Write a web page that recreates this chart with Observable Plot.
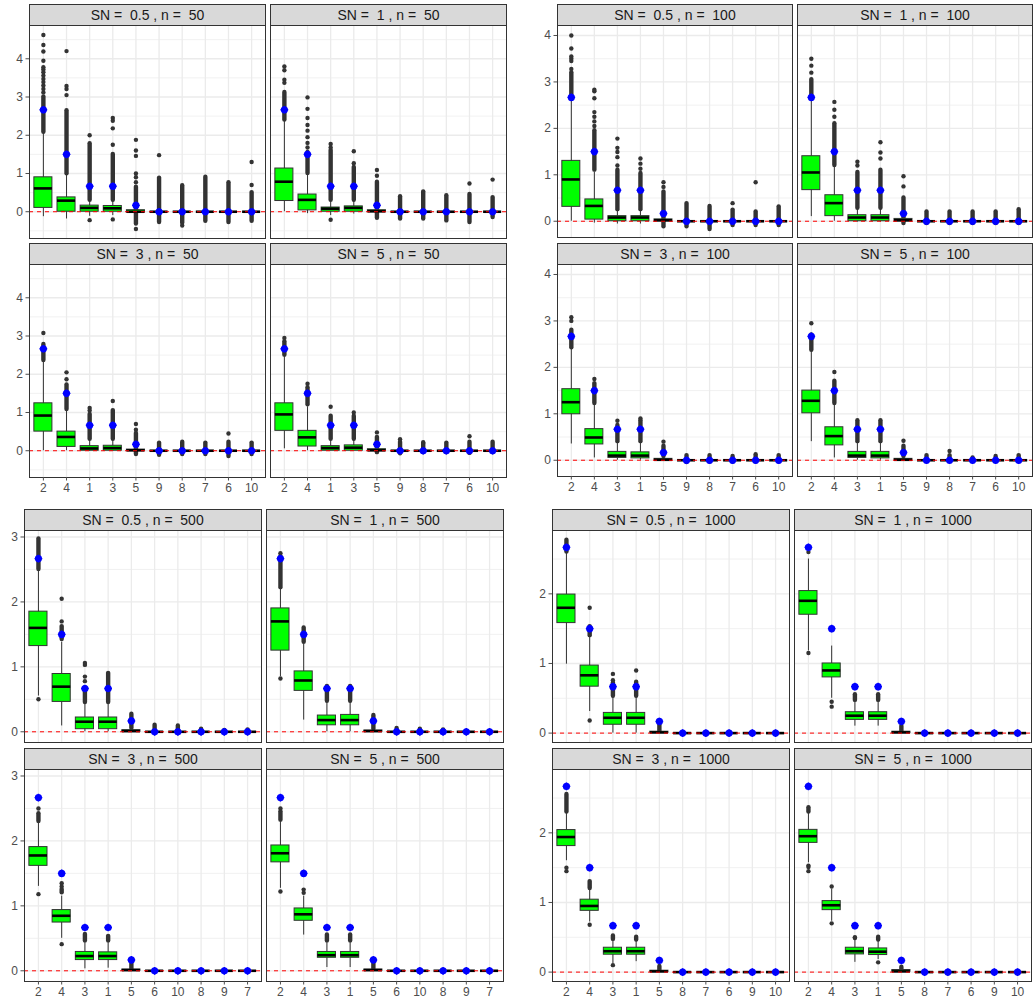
<!DOCTYPE html>
<html><head><meta charset="utf-8">
<script src="https://cdn.jsdelivr.net/npm/d3@7"></script>
<script src="https://cdn.jsdelivr.net/npm/@observablehq/plot@0.6"></script>
<style>
body{margin:0;background:#fff;font-family:"Liberation Sans",Arial,sans-serif;}
#chart{position:relative;width:1034px;height:1004px;overflow:hidden;background:#fff;}
.strip{position:absolute;box-sizing:border-box;background:#D9D9D9;border:1px solid #333;color:#1A1A1A;font-size:14px;line-height:20px;text-align:center;white-space:pre;}
.panel{position:absolute;}
</style></head><body><div id="chart"></div>
<script>
// ---------- data ----------
const sampleSizes = [50, 100, 500, 1000];
const snLevels = [0.5, 1, 3, 5];
const order50 = [2, 4, 1, 3, 5, 9, 8, 7, 6, 10];
const order100 = [2, 4, 3, 1, 5, 9, 8, 7, 6, 10];
const order500 = [2, 4, 3, 1, 5, 6, 10, 8, 9, 7];
const order1000 = [2, 4, 3, 1, 5, 8, 7, 6, 9, 10];
const trueVar = [1, 2, 3, 4, 5, 6, 7, 8, 9, 10];
const trueValue = [0.667, 2.667, 0.667, 1.5, 0.167, 0, 0, 0, 0, 0];

// box rows: [SN, variable, lower whisker, q1, median, q3, upper whisker]
const boxes50 = [
  [0.5,2,-0.13,0.10,0.61,0.90,2.08],[0.5,4,-0.19,0.00,0.29,0.375,0.97],[0.5,1,-0.12,0.00,0.10,0.16,0.30],[0.5,3,-0.10,0.00,0.09,0.15,0.30],[0.5,5,-0.03,-0.02,0.00,0.04,0.08],
  [0.5,9,0,0,0,0,0],[0.5,8,0,0,0,0,0],[0.5,7,0,0,0,0,0],[0.5,6,0,0,0,0,0],[0.5,10,0,0,0,0,0],
  [1,2,0.00,0.28,0.785,1.13,2.38],[1,4,-0.05,0.035,0.31,0.45,0.99],[1,1,-0.10,0.00,0.08,0.11,0.28],[1,3,-0.06,0.00,0.10,0.14,0.30],[1,5,-0.02,0.00,0.01,0.04,0.10],
  [1,9,0,0,0,0,0],[1,8,0,0,0,0,0],[1,7,0,0,0,0,0],[1,6,0,0,0,0,0],[1,10,0,0,0,0,0],
  [3,2,0.00,0.50,0.92,1.24,2.36],[3,4,0.00,0.10,0.36,0.50,1.05],[3,1,-0.01,0.00,0.06,0.12,0.28],[3,3,-0.01,0.00,0.07,0.13,0.30],[3,5,-0.01,0.00,0.01,0.03,0.06],
  [3,9,0,0,0,0,0],[3,8,0,0,0,0,0],[3,7,0,0,0,0,0],[3,6,0,0,0,0,0],[3,10,0,0,0,0,0],
  [5,2,0.05,0.52,0.95,1.24,2.50],[5,4,0.00,0.11,0.35,0.52,1.15],[5,1,0.00,0.00,0.07,0.12,0.28],[5,3,0.00,0.00,0.08,0.14,0.30],[5,5,-0.01,0.00,0.01,0.04,0.08],
  [5,9,0,0,0,0,0],[5,8,0,0,0,0,0],[5,7,0,0,0,0,0],[5,6,0,0,0,0,0],[5,10,0,0,0,0,0]
];
const boxes100 = [
  [0.5,2,0.00,0.31,0.90,1.30,2.70],[0.5,4,-0.04,0.035,0.33,0.47,1.06],[0.5,3,-0.06,0.00,0.08,0.11,0.24],[0.5,1,-0.06,0.00,0.08,0.11,0.24],[0.5,5,-0.02,0.00,0.02,0.04,0.08],
  [0.5,9,0,0,0,0,0],[0.5,8,0,0,0,0,0],[0.5,7,0,0,0,0,0],[0.5,6,0,0,0,0,0],[0.5,10,0,0,0,0,0],
  [1,2,0.10,0.67,1.05,1.40,2.60],[1,4,0.00,0.11,0.39,0.56,1.20],[1,3,-0.02,0.00,0.08,0.13,0.27],[1,1,-0.02,0.00,0.08,0.13,0.27],[1,5,-0.01,0.00,0.02,0.05,0.10],
  [1,9,0,0,0,0,0],[1,8,0,0,0,0,0],[1,7,0,0,0,0,0],[1,6,0,0,0,0,0],[1,10,0,0,0,0,0],
  [3,2,0.35,0.99,1.25,1.53,2.40],[3,4,0.05,0.34,0.49,0.67,1.20],[3,3,0.00,0.05,0.10,0.18,0.38],[3,1,0.00,0.04,0.10,0.17,0.38],[3,5,0.00,0.00,0.01,0.03,0.07],
  [3,9,0,0,0,0,0],[3,8,0,0,0,0,0],[3,7,0,0,0,0,0],[3,6,0,0,0,0,0],[3,10,0,0,0,0,0],
  [5,2,0.40,1.01,1.28,1.50,2.35],[5,4,0.05,0.32,0.52,0.71,1.20],[5,3,0.00,0.05,0.10,0.18,0.38],[5,1,0.00,0.04,0.10,0.18,0.38],[5,5,0.00,0.00,0.01,0.03,0.07],
  [5,9,0,0,0,0,0],[5,8,0,0,0,0,0],[5,7,0,0,0,0,0],[5,6,0,0,0,0,0],[5,10,0,0,0,0,0]
];
const boxes500 = [
  [0.5,2,0.55,1.32,1.60,1.85,2.48],[0.5,4,0.09,0.46,0.695,0.89,1.38],[0.5,3,0.00,0.04,0.155,0.22,0.44],[0.5,1,0.00,0.04,0.155,0.22,0.44],[0.5,5,0.00,0.00,0.01,0.025,0.04],
  [0.5,6,0,0,0,0,0],[0.5,10,0,0,0,0,0],[0.5,8,0,0,0,0,0],[0.5,9,0,0,0,0,0],[0.5,7,0,0,0,0,0],
  [1,2,0.85,1.25,1.70,1.90,2.20],[1,4,0.18,0.63,0.79,0.93,1.35],[1,3,0.00,0.10,0.18,0.25,0.45],[1,1,0.00,0.10,0.18,0.26,0.45],[1,5,0.00,0.00,0.01,0.02,0.04],
  [1,6,0,0,0,0,0],[1,10,0,0,0,0,0],[1,8,0,0,0,0,0],[1,9,0,0,0,0,0],[1,7,0,0,0,0,0],
  [3,2,1.30,1.616,1.776,1.905,2.28],[3,4,0.50,0.743,0.847,0.935,1.15],[3,3,0.03,0.165,0.227,0.29,0.45],[3,1,0.04,0.165,0.227,0.284,0.45],[3,5,0.00,0.00,0.01,0.02,0.03],
  [3,6,0,0,0,0,0],[3,10,0,0,0,0,0],[3,8,0,0,0,0,0],[3,9,0,0,0,0,0],[3,7,0,0,0,0,0],
  [5,2,1.27,1.67,1.81,1.93,2.30],[5,4,0.55,0.77,0.87,0.96,1.15],[5,3,0.05,0.20,0.24,0.29,0.45],[5,1,0.05,0.20,0.24,0.29,0.45],[5,5,0.00,0.00,0.01,0.02,0.03],
  [5,6,0,0,0,0,0],[5,10,0,0,0,0,0],[5,8,0,0,0,0,0],[5,9,0,0,0,0,0],[5,7,0,0,0,0,0]
];
const boxes1000 = [
  [0.5,2,0.99,1.58,1.80,1.99,2.60],[0.5,4,0.31,0.667,0.83,0.97,1.38],[0.5,3,0.00,0.12,0.22,0.29,0.52],[0.5,1,0.00,0.12,0.22,0.29,0.52],[0.5,5,0.00,0.00,0.01,0.02,0.03],
  [0.5,8,0,0,0,0,0],[0.5,7,0,0,0,0,0],[0.5,6,0,0,0,0,0],[0.5,9,0,0,0,0,0],[0.5,10,0,0,0,0,0],
  [1,2,1.18,1.70,1.90,2.04,2.50],[1,4,0.50,0.80,0.90,1.00,1.25],[1,3,0.10,0.19,0.25,0.30,0.45],[1,1,0.10,0.19,0.25,0.30,0.45],[1,5,0.00,0.00,0.01,0.02,0.03],
  [1,8,0,0,0,0,0],[1,7,0,0,0,0,0],[1,6,0,0,0,0,0],[1,9,0,0,0,0,0],[1,10,0,0,0,0,0],
  [3,2,1.60,1.81,1.94,2.04,2.30],[3,4,0.72,0.88,0.95,1.04,1.20],[3,3,0.12,0.25,0.30,0.35,0.45],[3,1,0.15,0.25,0.30,0.35,0.45],[3,5,0.00,0.00,0.01,0.02,0.03],
  [3,8,0,0,0,0,0],[3,7,0,0,0,0,0],[3,6,0,0,0,0,0],[3,9,0,0,0,0,0],[3,10,0,0,0,0,0],
  [5,2,1.57,1.856,1.952,2.043,2.30],[5,4,0.73,0.89,0.96,1.02,1.19],[5,3,0.14,0.254,0.30,0.35,0.47],[5,1,0.18,0.245,0.293,0.34,0.45],[5,5,0.00,0.005,0.01,0.03,0.04],
  [5,8,0,0,0,0,0],[5,7,0,0,0,0,0],[5,6,0,0,0,0,0],[5,9,0,0,0,0,0],[5,10,0,0,0,0,0]
];

// dense runs of outliers: [SN, variable, low, high]
const streaks50 = [
  [0.5,2,2.08,3.00],[0.5,4,0.99,2.64],[0.5,1,0.30,1.78],[0.5,3,0.30,1.50],[0.5,5,-0.32,0.64],[0.5,9,-0.28,0.88],[0.5,8,-0.30,0.68],[0.5,7,-0.25,0.90],[0.5,6,-0.28,0.76],[0.5,10,-0.25,0.50],
  [1,2,2.40,3.12],[1,4,1.00,1.55],[1,1,0.30,1.60],[1,3,0.30,1.16],[1,5,-0.17,0.77],[1,9,-0.19,0.39],[1,8,-0.19,0.52],[1,7,-0.24,0.42],[1,6,-0.28,0.45],[1,10,-0.15,0.37],
  [3,2,2.36,2.78],[3,4,1.08,1.72],[3,1,0.30,0.95],[3,3,0.30,1.05],[3,5,-0.10,0.45],[3,9,-0.12,0.20],[3,8,-0.10,0.22],[3,7,-0.10,0.20],[3,6,-0.15,0.22],[3,10,-0.10,0.20],
  [5,2,2.50,2.85],[5,4,1.20,1.65],[5,1,0.30,0.90],[5,3,0.30,0.90],[5,5,-0.05,0.35],[5,9,-0.08,0.22],[5,8,-0.05,0.18],[5,7,-0.05,0.20],[5,6,-0.07,0.22],[5,10,-0.05,0.22]
];
const streaks100 = [
  [0.5,2,2.72,3.20],[0.5,4,1.10,1.95],[0.5,3,0.25,1.10],[0.5,1,0.25,1.03],[0.5,5,-0.12,0.63],[0.5,9,-0.12,0.38],[0.5,8,-0.18,0.32],[0.5,7,-0.09,0.24],[0.5,6,-0.09,0.20],[0.5,10,-0.09,0.31],
  [1,2,2.65,3.05],[1,4,1.20,2.10],[1,3,0.28,1.05],[1,1,0.28,1.10],[1,5,-0.05,0.50],[1,9,-0.05,0.20],[1,8,-0.05,0.20],[1,7,-0.05,0.20],[1,6,-0.05,0.20],[1,10,-0.05,0.25],
  [3,2,2.42,2.80],[3,4,1.22,1.65],[3,3,0.40,0.75],[3,1,0.40,0.85],[3,5,0.08,0.30],[3,9,-0.05,0.10],[3,8,-0.04,0.10],[3,7,-0.04,0.08],[3,6,-0.04,0.12],[3,10,-0.04,0.10],
  [5,2,2.37,2.70],[5,4,1.22,1.70],[5,3,0.40,0.85],[5,1,0.40,0.85],[5,5,0.08,0.30],[5,9,-0.03,0.10],[5,8,-0.03,0.10],[5,7,-0.03,0.05],[5,6,-0.03,0.08],[5,10,-0.03,0.10]
];
const streaks500 = [
  [0.5,2,2.50,2.97],[0.5,4,1.42,1.62],[0.5,3,0.45,0.68],[0.5,1,0.45,0.90],[0.5,5,0.05,0.27],[0.5,6,0.00,0.10],[0.5,10,0.00,0.09],[0.5,8,0.00,0.04],[0.5,9,0.00,0.02],[0.5,7,0.00,0.03],
  [1,2,2.22,2.70],[1,4,1.38,1.60],[1,3,0.47,0.70],[1,1,0.47,0.70],[1,5,0.04,0.25],[1,6,0.00,0.05],[1,10,0.00,0.04],[1,8,0.00,0.03],
  [3,2,2.30,2.42],[3,4,1.20,1.25],[3,3,0.46,0.56],[3,1,0.46,0.53],[3,5,0.03,0.12],
  [5,2,2.32,2.45],[5,3,0.46,0.55],[5,1,0.46,0.55],[5,5,0.03,0.12]
];
const streaks1000 = [
  [0.5,2,2.60,2.77],[0.5,4,1.40,1.53],[0.5,3,0.53,0.72],[0.5,1,0.53,0.73],[0.5,5,0.03,0.13],
  [1,3,0.47,0.55],[1,1,0.47,0.55],[1,5,0.03,0.10],
  [3,2,2.30,2.55],[3,4,1.20,1.30],[3,3,0.47,0.52],[3,1,0.46,0.50],[3,5,0.03,0.08],
  [5,2,2.30,2.36],[5,1,0.46,0.50],[5,5,0.04,0.07]
];

// isolated outliers: [SN, variable, values]
const outliers50 = [
  [0.5,2,[3.12,3.21,3.30,3.39,3.47,3.56,3.65,3.72,3.78,3.95,4.19,4.36,4.62]],[0.5,4,[3.05,3.21,3.29,4.20]],[0.5,1,[2.00,-0.22]],[0.5,3,[1.75,2.18,2.38,2.45,-0.20]],
  [0.5,5,[0.77,0.90,1.00,1.46,1.60,1.88,-0.45]],[0.5,9,[1.48]],[0.5,8,[-0.36]],[0.5,10,[0.70,1.30]],
  [1,2,[3.37,3.45,3.70,3.80]],[1,4,[1.68,1.80,1.95,2.12,2.27,2.45,2.69,2.99]],[1,1,[1.68,1.77,-0.21]],[1,3,[1.27,1.58]],[1,5,[0.94,1.09]],[1,6,[0.74]],[1,10,[0.84]],
  [3,2,[3.08]],[3,4,[1.87,2.05]],[3,1,[1.05,1.12]],[3,3,[1.30]],[3,5,[0.55,0.70]],[3,6,[0.45]],
  [5,2,[2.95]],[5,4,[1.75]],[5,1,[1.15]],[5,3,[1.00]],[5,5,[0.48]],[5,9,[0.30]],[5,8,[0.22]],[5,6,[0.38]]
];
const outliers100 = [
  [0.5,2,[3.28,3.45,3.50,3.55,3.72,4.00]],[0.5,4,[2.05,2.15,2.25,2.35,2.65,2.80,2.83]],[0.5,3,[1.20,1.38,1.49,1.58,1.78]],[0.5,1,[1.13,1.24,1.35]],
  [0.5,5,[0.74,0.84]],[0.5,7,[0.39]],[0.5,6,[0.84]],
  [1,2,[3.20,3.35,3.50]],[1,4,[2.25,2.40,2.57]],[1,3,[1.20,1.28]],[1,1,[1.35,1.48,1.70]],[1,5,[0.75,0.97]],
  [3,2,[3.00,3.08]],[3,4,[1.75]],[3,3,[0.85]],[3,1,[0.90]],[3,5,[0.40]],
  [5,2,[2.95]],[5,4,[1.90]],[5,5,[0.42]],[5,8,[0.20]]
];
const outliers500 = [
  [0.5,2,[0.50]],[0.5,4,[1.70,2.05]],[0.5,3,[0.78,0.85,1.03,1.06]],
  [1,2,[0.82,2.75]],
  [3,2,[1.18,2.50]],[3,4,[0.41,1.30,1.35]],
  [5,2,[1.22,2.50]],[5,4,[1.20,1.25]]
];
const outliers1000 = [
  [0.5,4,[0.18,1.80]],[0.5,3,[0.76,0.85]],[0.5,1,[0.90]],
  [1,2,[1.15,2.60]],[1,4,[0.45,0.38]],
  [3,2,[1.50,1.45]],[3,4,[0.68]],[3,3,[0.10]],
  [5,2,[1.53,1.51,1.45]],[5,4,[0.70,1.23]],[5,3,[0.49,0.50]],[5,1,[0.14]]
];

// y-axis ticks per block
const majorTicks50 = [0, 1, 2, 3, 4], minorTicks50 = [-0.5, 0.5, 1.5, 2.5, 3.5, 4.5];
const majorTicks100 = [0, 1, 2, 3, 4], minorTicks100 = [0.5, 1.5, 2.5, 3.5];
const majorTicks500 = [0, 1, 2, 3], minorTicks500 = [0.5, 1.5, 2.5];
const majorTicks1000 = [0, 1, 2], minorTicks1000 = [0.5, 1.5, 2.5];

// ---------- layout ----------
const blocks = [
  {n: 50, order: order50, boxes: boxes50, streaks: streaks50, outliers: outliers50, major: majorTicks50, minor: minorTicks50,
   left: 29, top: 25, w: 236, h: 213, domain: [-0.70, 4.87]},
  {n: 100, order: order100, boxes: boxes100, streaks: streaks100, outliers: outliers100, major: majorTicks100, minor: minorTicks100,
   left: 557, top: 25, w: 235, h: 212, domain: [-0.35, 4.215]},
  {n: 500, order: order500, boxes: boxes500, streaks: streaks500, outliers: outliers500, major: majorTicks500, minor: minorTicks500,
   left: 24, top: 530, w: 237, h: 212, domain: [-0.165, 3.10]},
  {n: 1000, order: order1000, boxes: boxes1000, streaks: streaks1000, outliers: outliers1000, major: majorTicks1000, minor: minorTicks1000,
   left: 552, top: 530, w: 237, h: 212, domain: [-0.135, 2.91]}
];
const truth = trueVar.map((v, i) => ({v, y: trueValue[i]}));
const chart = document.getElementById("chart");
const FONT = "'Liberation Sans', Arial, sans-serif";

blocks.forEach(b => {
  snLevels.forEach((sn, i) => {
    const row = Math.floor(i / 2), col = i % 2;
    const px = b.left + col * (b.w + 5), py = b.top + row * 239;
    const mL = col === 0 ? 32 : 0, mR = 1, mT = 1, mB = row === 1 ? 24 : 1;
    const box = b.boxes.filter(d => d[0] === sn).map(d => ({v: d[1], lo: d[2], q1: d[3], med: d[4], q3: d[5], hi: d[6]}));
    const str = b.streaks.filter(d => d[0] === sn).map(d => ({v: d[1], lo: d[2], hi: d[3]}));
    const out = b.outliers.filter(d => d[0] === sn).flatMap(d => d[2].map(y => ({v: d[1], y})));
    const marks = [
      Plot.ruleY(b.minor, {stroke: "#EBEBEB", strokeWidth: 0.7}),
      Plot.ruleY(b.major, {stroke: "#EBEBEB", strokeWidth: 1.3}),
      Plot.ruleX(b.order, {x: d => d, stroke: "#EBEBEB", strokeWidth: 1.3}),
      Plot.ruleX(box, {x: "v", y1: "lo", y2: "hi", stroke: "#333", strokeWidth: 1}),
      Plot.ruleX(str, {x: "v", y1: "lo", y2: "hi", stroke: "#333", strokeWidth: 4.4, strokeLinecap: "round"}),
      Plot.dot(out, {x: "v", y: "y", r: 2.2, fill: "#333"}),
      Plot.barY(box.filter(d => d.q3 > d.q1), {x: "v", y1: "q1", y2: "q3", fill: "#00FF00", stroke: "#333", strokeWidth: 1}),
      Plot.tickY(box, {x: "v", y: "med", stroke: "#000", strokeWidth: 2.6}),
      Plot.ruleY([0], {stroke: "#FF0000", strokeWidth: 1, strokeDasharray: "4,4"}),
      Plot.dot(truth, {x: "v", y: "y", r: 3.6, fill: "#0000FF"}),
      Plot.dot(truth, {x: "v", y: "y", r: 2.6, symbol: "plus", stroke: "#0000FF", strokeWidth: 1.4}),
      Plot.frame({stroke: "#333", strokeWidth: 1})
    ];
    if (col === 0) marks.push(Plot.axisY(b.major, {tickSize: 3.5, tickPadding: 3, fontSize: 12, color: "#4D4D4D", tickFormat: d => String(d), label: null}));
    if (row === 1) marks.push(Plot.axisX({tickSize: 3.5, tickPadding: 2.5, fontSize: 12, color: "#4D4D4D", label: null}));
    const svg = Plot.plot({
      width: b.w + mL + mR, height: b.h + mT + mB,
      marginLeft: mL, marginRight: mR, marginTop: mT, marginBottom: mB,
      style: {background: "transparent", overflow: "visible", fontFamily: FONT},
      x: {type: "band", domain: b.order, paddingInner: 0.22, paddingOuter: 0.21, round: false, axis: null, label: null},
      y: {domain: b.domain, axis: null, label: null},
      marks
    });
    svg.classList.add("panel");
    svg.style.left = (px - mL) + "px";
    svg.style.top = (py - mT) + "px";
    chart.appendChild(svg);
    const strip = document.createElement("div");
    strip.className = "strip";
    strip.style.left = px + "px";
    strip.style.top = (py - 21) + "px";
    strip.style.width = (b.w + 1) + "px";
    strip.style.height = "22px";
    strip.textContent = `SN =  ${sn} , n =  ${b.n}`;
    chart.appendChild(strip);
  });
});
</script></body></html>
